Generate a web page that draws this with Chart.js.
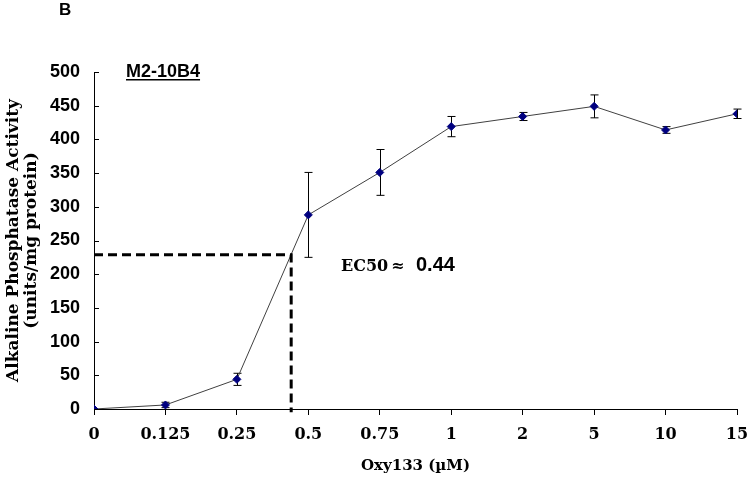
<!DOCTYPE html>
<html>
<head>
<meta charset="utf-8">
<script src="https://cdn.jsdelivr.net/npm/chart.js@4.4.1/dist/chart.umd.min.js"></script>
<style>
  html, body { margin: 0; padding: 0; background: #fff; }
  #wrap { width: 750px; height: 479px; }
</style>
</head>
<body>
<div id="wrap"><canvas id="chart"></canvas></div>
<script>
// Data
const doses = ["0", "0.125", "0.25", "0.5", "0.75", "1", "2", "5", "10", "15"];
const activity = [0, 6, 44, 288, 351, 419, 434, 449, 414, 438];
const errors = [0, 4, 9, 63, 34, 15, 6, 17, 5, 7];
const ec50 = 0.44;
const ec50Level = 229;

// position of EC50 along the (categorical) dose axis
function doseIndex(v) {
  for (let i = 0; i < doses.length - 1; i++) {
    const a = parseFloat(doses[i]), b = parseFloat(doses[i + 1]);
    if (v >= a && v <= b) return i + (v - a) / (b - a);
  }
  return doses.length - 1;
}
const ec50Idx = doseIndex(ec50);

const serif = "'DejaVu Serif', serif";
const sans = "'Liberation Sans', Arial, sans-serif";

// error bars + inward y ticks + annotations
const extras = {
  id: "extras",
  beforeDatasetsDraw(chart) {
    const { ctx, scales: { x, y } } = chart;
    ctx.save();
    ctx.strokeStyle = "#000";
    ctx.lineWidth = 1;
    activity.forEach((v, i) => {
      if (!errors[i]) return;
      const px = Math.round(x.getPixelForValue(i)) + 0.5;
      const top = y.getPixelForValue(v + errors[i]);
      const bot = y.getPixelForValue(v - errors[i]);
      ctx.beginPath();
      ctx.moveTo(px, top); ctx.lineTo(px, bot);
      ctx.moveTo(px - 4, top); ctx.lineTo(px + 4, top);
      ctx.moveTo(px - 4, bot); ctx.lineTo(px + 4, bot);
      ctx.stroke();
    });
    ctx.restore();
  },
  afterDraw(chart) {
    const { ctx, chartArea: area, scales: { y } } = chart;
    ctx.save();
    // inward tick marks on the y axis
    ctx.strokeStyle = "#000";
    ctx.lineWidth = 1;
    y.ticks.forEach(t => {
      const py = Math.round(y.getPixelForValue(t.value)) + 0.5;
      ctx.beginPath();
      ctx.moveTo(area.left, py); ctx.lineTo(area.left + 5, py);
      ctx.stroke();
    });
    ctx.fillStyle = "#000";
    ctx.textBaseline = "alphabetic";
    // panel letter
    ctx.font = "bold 17px " + sans;
    ctx.fillText("B", 59, 15);
    // cell line label, underlined
    ctx.font = "bold 18px " + sans;
    const lbl = "M2-10B4";
    const lx = 126, ly = 77;
    ctx.fillText(lbl, lx, ly);
    const w = ctx.measureText(lbl).width;
    ctx.fillRect(lx, ly + 2, w, 1.5);
    // EC50 annotation
    ctx.font = "bold 16px " + serif;
    ctx.fillText("EC50", 341, 271);
    ctx.fillText("\u2248", 391, 271);
    ctx.font = "bold 20px " + sans;
    ctx.fillText("0.44", 416, 271);
    ctx.restore();
  }
};

new Chart(document.getElementById("chart"), {
  type: "line",
  data: {
    datasets: [
      {
        label: "Activity",
        data: activity.map((v, i) => ({ x: i, y: v })),
        borderColor: "#404040",
        borderWidth: 1,
        pointStyle: "rectRot",
        pointRadius: 4,
        pointBackgroundColor: "#000080",
        pointBorderColor: "#000080",
        pointBorderWidth: 1,
        tension: 0,
        order: 2,
      },
      {
        label: "EC50",
        data: [
          { x: 0, y: ec50Level },
          { x: ec50Idx, y: ec50Level },
          { x: ec50Idx, y: -5 },
        ],
        borderColor: "#000",
        borderWidth: 3,
        borderDash: [9, 5],
        pointRadius: 0,
        clip: false,
        order: 1,
      },
    ],
  },
  options: {
    responsive: true,
    maintainAspectRatio: false,
    animation: false,
    layout: { padding: { top: 72, right: 13, bottom: 0, left: 0 } },
    plugins: { legend: { display: false }, tooltip: { enabled: false } },
    scales: {
      x: {
        type: "linear",
        min: 0,
        max: doses.length - 1,
        afterFit(scale) {
          scale.height = 70;
          scale.paddingLeft = 0;
          scale.paddingRight = 0;
        },
        grid: { drawOnChartArea: false, drawTicks: true, tickLength: 6, color: "#000" },
        border: { color: "#000", width: 1 },
        ticks: {
          stepSize: 1,
          autoSkip: false,
          maxRotation: 0,
          padding: 10,
          color: "#000",
          font: { family: serif, size: 16, weight: "bold" },
          callback: v => doses[v],
        },
        title: {
          display: true,
          text: "Oxy133 (\u00b5M)",
          color: "#000",
          font: { family: serif, size: 15, weight: "bold" },
          padding: { top: 0, bottom: 4 },
        },
      },
      y: {
        min: 0,
        max: 500,
        afterFit(scale) {
          scale.width = 94;
          scale.paddingTop = 0;
          scale.paddingBottom = 0;
        },
        grid: { drawOnChartArea: false, drawTicks: false },
        border: { color: "#000", width: 1 },
        ticks: {
          stepSize: 50,
          padding: 14,
          color: "#000",
          font: { family: sans, size: 18, weight: "bold" },
        },
        title: {
          display: true,
          text: ["Alkaline Phosphatase Activity", "(units/mg protein)"],
          color: "#000",
          font: { family: serif, size: 17, weight: "bold", lineHeight: 1.05 },
          padding: { top: 5, bottom: 0 },
        },
      },
    },
  },
  plugins: [extras],
});
</script>
</body>
</html>
